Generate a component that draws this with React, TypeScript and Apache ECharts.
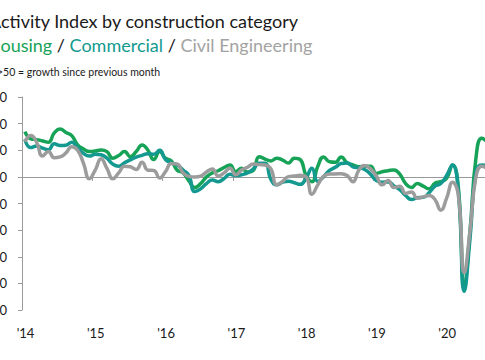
import React, { useEffect, useRef } from "react";
import * as echarts from "echarts";

// Monthly index values, Jan 2014 .. Aug 2020
const startYear = 2014;
const housing = [
  67, 64.3, 64, 63.5, 63, 66.5, 68, 66.7, 65.5, 62, 60.5, 59.5,
  59.7, 60.1, 59.5, 57, 58, 59.5, 57.6, 59.5, 62, 60, 56.5, 59.5,
  57, 56, 52.5, 51.5, 48.5, 46, 47.5, 50, 51.5, 52.3, 53.5, 54.5,
  52, 53.2, 51.8, 52.5, 57.6, 56.7, 56, 57, 56.3, 55.2, 57, 56.5,
  50.5, 48.2, 54, 57.5, 55.7, 55.5, 57.5, 55.3, 54.5, 53.8, 54, 54,
  51.3, 51.9, 52.3, 52.6, 51, 47.5, 46, 47.5, 46.5, 45.5, 47.6, 48.2,
  49.5, 54.5, 46, 9, 30, 57, 64.5, 63,
];
const commercial = [
  64.1, 61, 61.6, 60.8, 60.2, 62.4, 61.8, 61.9, 63, 61, 58.8, 57.8,
  58.5, 58.3, 57, 54.8, 54, 55.3, 56.4, 57.4, 58.1, 58.7, 58.5, 60,
  56.5, 55.3, 54.5, 52.6, 50.5, 44.5, 45.5, 47.5, 48.8, 48.2, 49.4, 51,
  50.5, 50.8, 51.5, 53, 55.1, 55.1, 49, 47, 48, 48.4, 47.8, 47.2,
  49.5, 53.2, 48.3, 50.1, 52.4, 53.6, 55, 55.2, 53.8, 53.4, 52.8, 51,
  48.6, 48, 48.1, 46.6, 45.2, 43, 41.5, 42.2, 42.3, 44, 46.5, 47.5,
  50.5, 54.5, 44.5, 7, 27, 52, 54.5, 54,
];
const civil = [
  63.2, 65.5, 63, 57.8, 59.5, 57.2, 57.5, 59, 61.3, 60, 55.1, 49.3,
  52.5, 56.8, 53.2, 49.3, 51.5, 54, 53.8, 52.8, 55.5, 52.5, 52.4, 49.6,
  52, 55, 54.8, 51.5, 50.2, 50, 50.3, 51.8, 53, 50.3, 51.5, 53.2,
  50.8, 52.6, 53.6, 54.8, 54.6, 54.5, 53, 47, 48.3, 50.1, 50.3, 50.6,
  50, 43.5, 47, 50.2, 51.1, 51.1, 51.2, 50.5, 48.2, 52.5, 54.3, 53,
  50.3, 47, 48.6, 46, 46.5, 43.8, 44.3, 42, 42.5, 43, 41.5, 37.5,
  42, 48, 43, 14, 30, 50, 54, 53,
];
const seriesNames = ["Housing", "Commercial", "Civil Engineering"];
const seriesColors = ["#17a357", "#13998f", "#9c9c9c"];
const yTicks = { min: 0, max: 80, interval: 10 };
const lastYearLabel = 2020;

const SHIFT = 40;
const W = 565;
const H = 360;

export default function App() {
  const ref = useRef<HTMLDivElement>(null);
  useEffect(() => {
    if (!ref.current) return;
    const chart = echarts.init(ref.current, null, { renderer: "svg" });
    const font = "Lato, 'Noto Sans', sans-serif";
    const toPts = (arr: number[]) => arr.map((v, i) => [i + 0.5, v]);
    const all = [housing, commercial, civil];
    const monthsMax = 84;
    const subSize = 18;
    chart.setOption({
      animation: false,
      backgroundColor: "#ffffff",
      textStyle: { fontFamily: font },
      grid: { left: 22 + SHIFT, top: 97, bottom: 50, right: W - (22 + SHIFT) - 492 },
      graphic: [
        {
          type: "text",
          x: SHIFT - 11,
          y: 12,
          style: {
            text: "Activity Index by construction category",
            fontFamily: font,
            fontSize: 18,
            fill: "#1a1a1a",
          },
        },
        {
          type: "text",
          x: SHIFT - 13,
          y: 36,
          style: {
            text: "{h|Housing} {s|/} {c|Commercial} {s|/} {g|Civil Engineering}",
            fontFamily: font,
            fontSize: subSize,
            rich: {
              h: { fill: seriesColors[0], fontSize: subSize, fontFamily: font },
              s: { fill: "#1a1a1a", fontSize: subSize, fontFamily: font },
              c: { fill: seriesColors[1], fontSize: subSize, fontFamily: font },
              g: { fill: "#a3a3a3", fontSize: subSize, fontFamily: font },
            },
          },
        },
        {
          type: "text",
          x: SHIFT - 3,
          y: 66,
          style: {
            text: ">50 = growth since previous month",
            fontFamily: font,
            fontSize: 10.5,
            fill: "#1a1a1a",
          },
        },
      ],
      xAxis: [
        {
          type: "value",
          min: 0,
          max: monthsMax,
          interval: 12,
          axisLine: { onZero: true, onZeroAxisIndex: 1, lineStyle: { color: "#9a9a9a", width: 1 } },
          axisTick: { show: true, length: 4, lineStyle: { color: "#9a9a9a" } },
          axisLabel: { show: false },
          splitLine: { show: false },
        },
        {
          type: "value",
          position: "bottom",
          min: 0,
          max: monthsMax,
          interval: 12,
          axisLine: { show: false, onZero: false },
          axisTick: { show: false },
          splitLine: { show: false },
          axisLabel: {
            margin: 16,
            fontSize: 13,
            color: "#1a1a1a",
            fontFamily: font,
            padding: [0, 0, 0, 7],
            formatter: (v: number) => {
              const y = startYear + Math.round(v / 12);
              return y <= lastYearLabel ? "'" + String(y).slice(2) : "";
            },
          },
        },
      ],
      yAxis: [
        {
          type: "value",
          min: yTicks.min,
          max: yTicks.max,
          interval: yTicks.interval,
          axisLine: { show: true, lineStyle: { color: "#9a9a9a", width: 1 } },
          axisTick: { show: true, length: 4, lineStyle: { color: "#9a9a9a" } },
          axisLabel: { margin: 15, fontSize: 13, color: "#1a1a1a", fontFamily: font },
          splitLine: { show: false },
        },
        {
          type: "value",
          min: -50,
          max: 30,
          show: false,
        },
      ],
      series: all.map((arr, k) => ({
        name: seriesNames[k],
        type: "line",
        xAxisIndex: 0,
        yAxisIndex: 0,
        data: toPts(arr),
        smooth: 0.5,
        showSymbol: false,
        symbol: "none",
        lineStyle: { color: seriesColors[k], width: 3.5 },
        z: 2 + k,
      })),
    });
    return () => chart.dispose();
  }, []);
  return (
    <div
      style={{
        position: "fixed",
        left: 0,
        top: 0,
        width: 485,
        height: 360,
        overflow: "hidden",
        background: "#fff",
      }}
    >
      <div ref={ref} style={{ position: "absolute", left: -SHIFT, top: 0, width: W, height: H }} />
    </div>
  );
}
